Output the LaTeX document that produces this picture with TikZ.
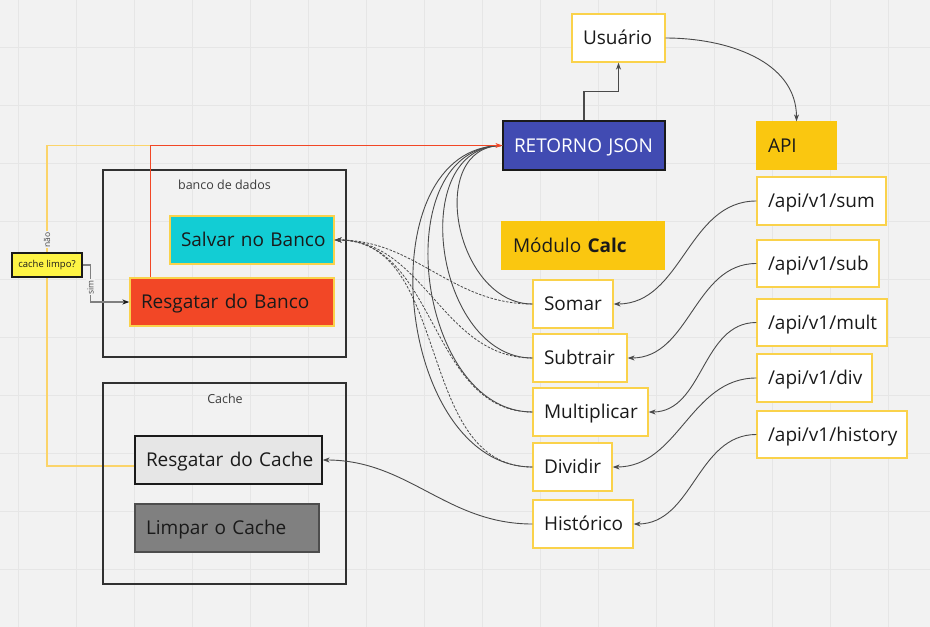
\documentclass[tikz,border=0pt]{standalone}
\usepackage{fontspec}
\setmainfont{Open Sans}
\usetikzlibrary{arrows.meta,calc}
\definecolor{bg}{HTML}{F2F2F2}
\definecolor{gridc}{HTML}{E6E6E6}
\definecolor{ybord}{HTML}{FAD24B}
\definecolor{gold}{HTML}{FAC710}
\definecolor{indigo}{HTML}{414BB2}
\definecolor{cyanf}{HTML}{12CDD4}
\definecolor{redf}{HTML}{F24726}
\definecolor{lemon}{HTML}{FEF445}
\definecolor{lgrey}{HTML}{E6E6E6}
\definecolor{mgrey}{HTML}{808080}
\definecolor{dgrey}{HTML}{4D4D4D}
\definecolor{ink}{HTML}{1A1A1A}
\definecolor{wire}{HTML}{4A4A4A}
\definecolor{yline}{HTML}{FBD46A}
\pgfdeclarelayer{back}
\pgfdeclarelayer{mid}
\pgfsetlayers{back,mid,main}
\tikzset{
  bx/.style={rectangle, draw=ybord, line width=1.3pt, fill=white, inner xsep=11pt, inner ysep=0pt,
    align=left, text=ink, font=\fontsize{19}{22}\selectfont, text height=13.6pt, text depth=0pt},
  cont/.style={rectangle, draw=ink!90, line width=1.1pt},
  ctitle/.style={text=ink!85, font=\fontsize{12.5}{14}\selectfont, inner sep=0pt},
  lbl/.style={fill=bg, text=ink!80, font=\fontsize{8.5}{10}\selectfont, inner sep=1pt, rotate=90},
  arr/.style={-{Stealth[length=7pt,width=5pt]}},
  wireline/.style={draw=wire, line width=0.9pt},
  dashline/.style={draw=wire, line width=0.8pt, dash pattern=on 2.5pt off 1.5pt},
}
\begin{document}
\begin{tikzpicture}[x=1pt,y=-1pt]
\useasboundingbox (0,0) rectangle (930,627);
\begin{pgfonlayer}{back}
\fill[bg] (0,0) rectangle (930,627);
\foreach \k in {0,...,15} \draw[gridc, line width=0.8pt] ({17.9+58*\k},0) -- ({17.9+58*\k},627);
\foreach \k in {0,...,9} \draw[gridc, line width=0.8pt] (0,{47.7+58*\k}) -- (930,{47.7+58*\k});
\end{pgfonlayer}

% containers
\node[cont, minimum width=243pt, minimum height=187pt] (bd) at (224.5,263.5) {};
\node[ctitle] (bdt) at (224.5,185) {banco de dados};
\node[cont, minimum width=243pt, minimum height=201pt] (cc) at (224.5,483.5) {};
\node[ctitle] (cct) at (225,399) {Cache};

% top
\node[bx, minimum width=93pt, minimum height=48pt, text width=71pt] (usr) at (618.5,38) {Usuário};
\node[bx, draw=ink, fill=indigo, text=white, minimum width=162pt, minimum height=49pt, text width=140pt] (ret) at (584,145.5) {\mbox{RETORNO JSON}};
\node[bx, draw=gold, fill=gold, minimum width=79pt, minimum height=47pt, text width=57pt] (api) at (796.5,145.5) {API};
\node[bx, draw=gold, fill=gold, minimum width=162pt, minimum height=47pt, text width=140pt] (mod) at (583,245.5) {\mbox{Módulo \textbf{Calc}}};

% module
\node[bx, minimum width=80pt, minimum height=48pt, text width=58pt] (nsom) at (573,304) {Somar};
\node[bx, minimum width=94pt, minimum height=48pt, text width=72pt] (nsub) at (580,358) {Subtrair};
\node[bx, minimum width=115pt, minimum height=48pt, text width=93pt] (nmul) at (590.5,412) {Multiplicar};
\node[bx, minimum width=79pt, minimum height=48pt, text width=57pt] (ndiv) at (572.5,467) {Dividir};
\node[bx, minimum width=100pt, minimum height=48pt, text width=78pt] (nhis) at (583,524) {Histórico};

% endpoints
\node[bx, minimum width=129pt, minimum height=48pt, text width=107pt] (esum) at (821.5,201) {/api/v1/sum};
\node[bx, minimum width=122pt, minimum height=47pt, text width=100pt] (esub) at (818,263.5) {/api/v1/sub};
\node[bx, minimum width=130pt, minimum height=47pt, text width=108pt] (emul) at (822,322.5) {/api/v1/mult};
\node[bx, minimum width=115pt, minimum height=48pt, text width=93pt] (ediv) at (814.5,378) {/api/v1/div};
\node[bx, minimum width=150pt, minimum height=47pt, text width=128pt] (ehis) at (832,434.5) {/api/v1/history};

\coordinate (rcl) at (135,466);
\coordinate (rbtop) at (150,278);

% curves module -> RETORNO
\draw[wireline] (nsom.west) to[out=180,in=180,looseness=1.23] (ret.west);
\draw[wireline] (nsub.west) to[out=180,in=180,looseness=1.16] (ret.west);
\draw[wireline] (nmul.west) to[out=180,in=180,looseness=1.12] (ret.west);
\draw[wireline] (ndiv.west) to[out=180,in=180,looseness=1.09] (ret.west);

% cache limpo? and the yellow "não" line behind it
\node[draw=ink, fill=lemon, line width=1.2pt, minimum width=70pt, minimum height=24pt, inner sep=0pt,
  text=ink, font=\fontsize{9.5}{11}\selectfont] (cl) at (47,265) {cache limpo?};
\begin{pgfonlayer}{mid}
\draw[yline, line width=1.1pt] (rcl) -| (cl.center) |- node[lbl, pos=0.105] {não} (ret.west);
\end{pgfonlayer}

% red line
\draw[redf, line width=0.9pt, arr] (rbtop) |- (ret.west);

% left boxes
\node[bx, fill=cyanf, minimum width=164pt, minimum height=48pt, text width=142pt] (salv) at (252,240) {\mbox{Salvar no Banco}};
\node[bx, fill=redf, minimum width=204pt, minimum height=48pt, text width=182pt] (rb) at (232,302) {\mbox{Resgatar do Banco}};
\node[bx, draw=ink, fill=lgrey, minimum width=187pt, minimum height=48pt, text width=165pt] (rca) at (228.5,460) {\mbox{Resgatar do Cache}};
\node[bx, draw=dgrey, fill=mgrey, minimum width=184pt, minimum height=48pt, text width=162pt] (lim) at (227,528) {\mbox{Limpar o Cache}};

% sim
\draw[mgrey, line width=1.3pt, -{Stealth[length=7pt,width=5pt,color=ink]}] (cl.east) -- ++(8,0) |- node[lbl, pos=0.3] {sim} (rb.west);

% dashed to Salvar
\draw[dashline, arr] (nsom.west) to[out=180,in=0] (salv.east);
\draw[dashline, arr] (nsub.west) to[out=180,in=0] (salv.east);
\draw[dashline, arr] (nmul.west) to[out=180,in=0] (salv.east);
\draw[dashline, arr] (ndiv.west) to[out=180,in=0] (salv.east);

% Historico -> cache
\draw[wireline, arr] (nhis.west) to[out=180,in=0] (rca.east);

% endpoints -> module
\draw[wireline, arr] (esum.west) to[out=180,in=0] (nsom.east);
\draw[wireline, arr] (esub.west) to[out=180,in=0] (nsub.east);
\draw[wireline, arr] (emul.west) to[out=180,in=0] (nmul.east);
\draw[wireline, arr] (ediv.west) to[out=180,in=0] (ndiv.east);
\draw[wireline, arr] (ehis.west) to[out=180,in=0] (nhis.east);

% top connectors
\draw[wireline, line width=1.1pt, arr] (ret.north) -- ++(0,-29) -| (usr.south);
\draw[wireline, arr] (usr.east) to[out=0,in=90] (api.north);
\end{tikzpicture}
\end{document}
